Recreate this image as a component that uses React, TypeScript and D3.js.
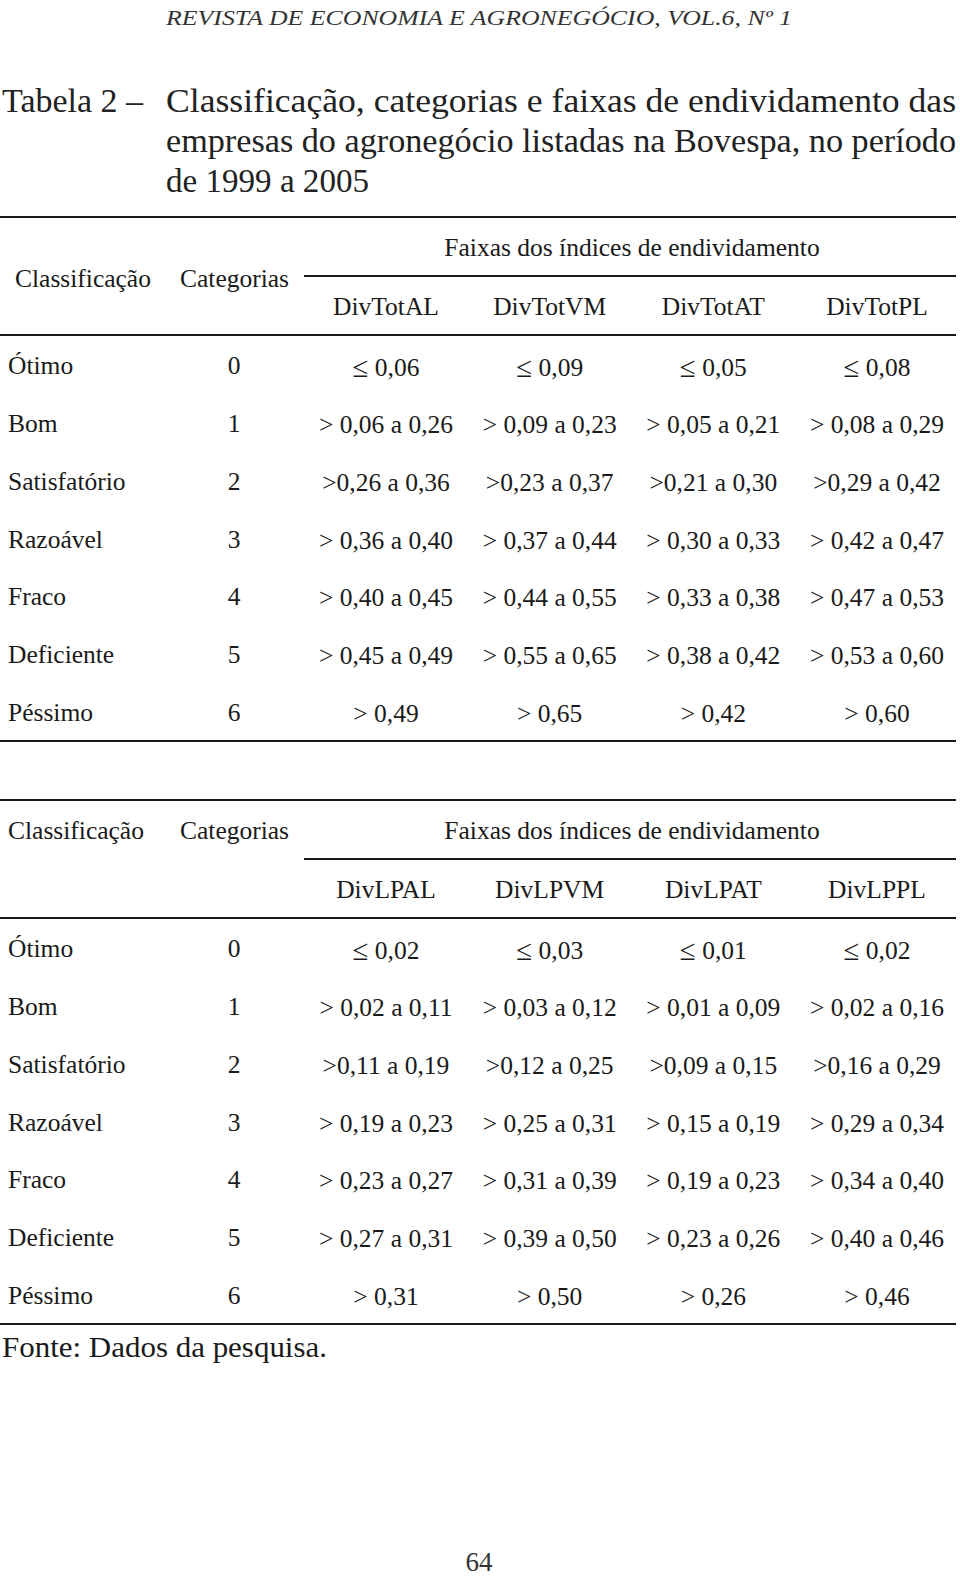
import React from "react";
import * as d3 from "d3";

const journalHeader = "REVISTA DE ECONOMIA E AGRONEGÓCIO, VOL.6, Nº 1";
const tableLabel = "Tabela 2 –";
const titleLines = [
  "Classificação, categorias e faixas de endividamento das",
  "empresas do agronegócio listadas na Bovespa, no período",
  "de 1999 a 2005",
];
const titleWidths = [790, 790, 203];
const groupHeader = "Faixas dos índices de endividamento";
const classHeader = "Classificação";
const catHeader = "Categorias";
const classifications = ["Ótimo", "Bom", "Satisfatório", "Razoável", "Fraco", "Deficiente", "Péssimo"];
const codes = ["0", "1", "2", "3", "4", "5", "6"];

const totHeaders = ["DivTotAL", "DivTotVM", "DivTotAT", "DivTotPL"];
const totAL = ["≤ 0,06", "> 0,06 a 0,26", ">0,26 a 0,36", "> 0,36 a 0,40", "> 0,40 a 0,45", "> 0,45 a 0,49", "> 0,49"];
const totVM = ["≤ 0,09", "> 0,09 a 0,23", ">0,23 a 0,37", "> 0,37 a 0,44", "> 0,44 a 0,55", "> 0,55 a 0,65", "> 0,65"];
const totAT = ["≤ 0,05", "> 0,05 a 0,21", ">0,21 a 0,30", "> 0,30 a 0,33", "> 0,33 a 0,38", "> 0,38 a 0,42", "> 0,42"];
const totPL = ["≤ 0,08", "> 0,08 a 0,29", ">0,29 a 0,42", "> 0,42 a 0,47", "> 0,47 a 0,53", "> 0,53 a 0,60", "> 0,60"];

const lpHeaders = ["DivLPAL", "DivLPVM", "DivLPAT", "DivLPPL"];
const lpAL = ["≤ 0,02", "> 0,02 a 0,11", ">0,11 a 0,19", "> 0,19 a 0,23", "> 0,23 a 0,27", "> 0,27 a 0,31", "> 0,31"];
const lpVM = ["≤ 0,03", "> 0,03 a 0,12", ">0,12 a 0,25", "> 0,25 a 0,31", "> 0,31 a 0,39", "> 0,39 a 0,50", "> 0,50"];
const lpAT = ["≤ 0,01", "> 0,01 a 0,09", ">0,09 a 0,15", "> 0,15 a 0,19", "> 0,19 a 0,23", "> 0,23 a 0,26", "> 0,26"];
const lpPL = ["≤ 0,02", "> 0,02 a 0,16", ">0,16 a 0,29", "> 0,29 a 0,34", "> 0,34 a 0,40", "> 0,40 a 0,46", "> 0,46"];

const sourceNote = "Fonte: Dados da pesquisa.";
const pageNumber = "64";

const W = 960;
const H = 1578;
const FONT = "'Liberation Serif', 'Times New Roman', serif";
const INK = "#1a1a1a";

const colX = d3.scalePoint<number>().domain([0, 1, 2, 3]).range([386, 877]);

function Cell({ x, y, v }: { x: number; y: number; v: string }) {
  if (v.startsWith("≤")) {
    return (
      <text x={x} y={y} textAnchor="middle" dominantBaseline="central">
        <tspan fontSize={29}>≤</tspan>
        {v.slice(1)}
      </text>
    );
  }
  return <text x={x} y={y} textAnchor="middle" dominantBaseline="central">{v}</text>;
}

function Table({ top, headers, cols, classX }: { top: number; headers: string[]; cols: string[][]; classX: number; }) {
  const rowY = d3.scaleLinear().domain([0, 6]).range([top + 149, top + 495]);
  const fs = 25.5;
  const stacked = classX === 8;
  return (
    <g fontFamily={FONT} fill={INK} fontSize={fs}>
      <line x1={0} x2={956} y1={top} y2={top} stroke={INK} strokeWidth={2} />
      <text x={632} y={top + 30} textAnchor="middle" dominantBaseline="central">{groupHeader}</text>
      <line x1={304} x2={956} y1={top + 59} y2={top + 59} stroke={INK} strokeWidth={2} />
      <text x={classX} y={stacked ? top + 30 : top + 61} dominantBaseline="central">{classHeader}</text>
      <text x={180} y={stacked ? top + 30 : top + 61} dominantBaseline="central">{catHeader}</text>
      {headers.map((h, i) => (
        <text key={h} x={colX(i)} y={top + 89} textAnchor="middle" dominantBaseline="central">{h}</text>
      ))}
      <line x1={0} x2={956} y1={top + 118} y2={top + 118} stroke={INK} strokeWidth={2} />
      {classifications.map((c, r) => (
        <g key={c}>
          <text x={8} y={rowY(r) - (r === 0 ? 1 : 0)} dominantBaseline="central">{c}</text>
          <text x={234} y={rowY(r) - (r === 0 ? 1 : 0)} textAnchor="middle" dominantBaseline="central">{codes[r]}</text>
          {cols.map((col, i) => (
            <Cell key={i} x={colX(i) as number} y={rowY(r) + 1} v={col[r]} />
          ))}
        </g>
      ))}
      <line x1={0} x2={956} y1={top + 524} y2={top + 524} stroke={INK} strokeWidth={2} />
    </g>
  );
}

export default function App() {
  return (
    <svg width={W} height={H} style={{ position: "absolute", left: 0, top: 0, background: "#fff" }}>
      <rect width={W} height={H} fill="#fff" />
      <text x={166} y={25} fontFamily={FONT} fontStyle="italic" fontSize={21} fill="#333" textLength={626} lengthAdjust="spacingAndGlyphs">{journalHeader}</text>
      <g fontFamily={FONT} fill="#222" fontSize={33}>
        <text x={2} y={112} textLength={141} lengthAdjust="spacingAndGlyphs">{tableLabel}</text>
        {titleLines.map((t, i) => (
          <text key={i} x={166} y={112 + i * 40} textLength={titleWidths[i]} lengthAdjust="spacingAndGlyphs">{t}</text>
        ))}
      </g>
      <Table top={217} headers={totHeaders} cols={[totAL, totVM, totAT, totPL]} classX={15} />
      <Table top={800} headers={lpHeaders} cols={[lpAL, lpVM, lpAT, lpPL]} classX={8} />
      <text x={2} y={1346} dominantBaseline="central" fontFamily={FONT} fontSize={30} fill={INK} textLength={325} lengthAdjust="spacingAndGlyphs">{sourceNote}</text>
      <text x={479} y={1562} textAnchor="middle" dominantBaseline="central" fontFamily={FONT} fontSize={27} fill="#333">{pageNumber}</text>
    </svg>
  );
}
